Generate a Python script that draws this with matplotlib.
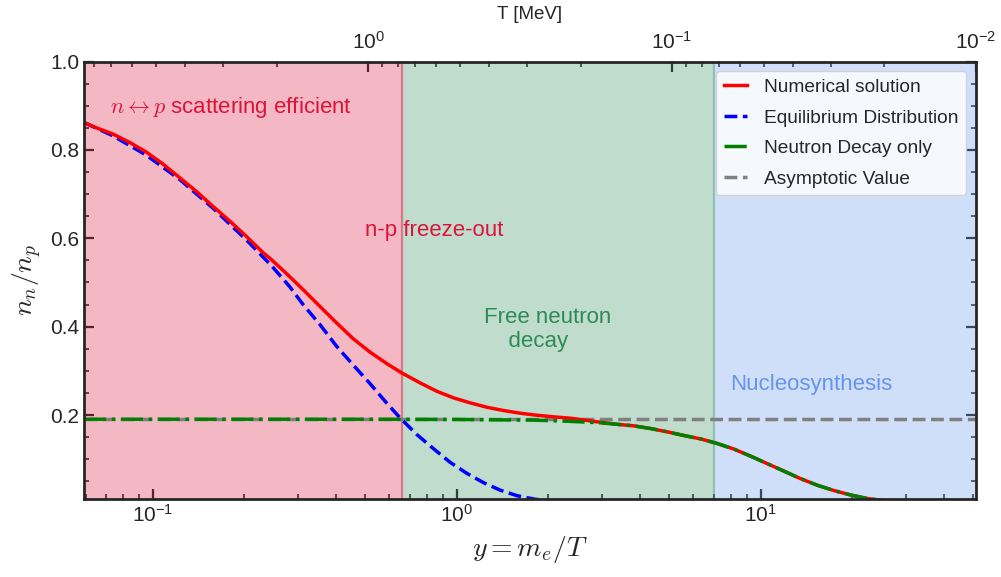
import matplotlib
matplotlib.use('Agg')
import matplotlib.pyplot as plt
from matplotlib.ticker import MultipleLocator
import numpy as np

plt.rcParams['font.family'] = ['Liberation Sans', 'DejaVu Sans']
plt.rcParams['mathtext.fontset'] = 'cm'
plt.rcParams['text.color'] = '#262626'
plt.rcParams['axes.labelcolor'] = '#262626'
plt.rcParams['xtick.color'] = '#262626'
plt.rcParams['ytick.color'] = '#262626'

# electron mass in MeV, for the T axis on top
m_e = 0.511

# values
y_num = [0.0593, 0.0651, 0.0738, 0.0838, 0.0951, 0.1079, 0.1225, 0.139, 0.1577, 0.179,
         0.2032, 0.2306, 0.2424, 0.2752, 0.3122, 0.3542, 0.4022, 0.4562, 0.5178, 0.5877,
         0.6586, 0.7568, 0.8592, 0.9745, 1.106, 1.256, 1.424, 1.617, 1.835, 2.082,
         2.363, 2.967, 3.368, 3.82, 4.336, 4.922, 5.583, 6.338, 7.19, 8.16, 9.26,
         10.51, 11.93, 13.53, 15.37, 17.43, 19.79, 22.46, 25.6, 35.0, 51.1]
nn_num = [0.862, 0.850, 0.836, 0.817, 0.795, 0.768, 0.737, 0.706, 0.672, 0.639,
          0.604, 0.567, 0.555, 0.520, 0.4836, 0.4459, 0.4084, 0.3725, 0.3425, 0.3165,
          0.2954, 0.2728, 0.2538, 0.2389, 0.2276, 0.2176, 0.2102, 0.2041, 0.1995, 0.1959,
          0.1928, 0.1837, 0.179, 0.1756, 0.1695, 0.162, 0.1537, 0.146, 0.1356, 0.123, 0.107,
          0.090, 0.073, 0.056, 0.041, 0.029, 0.019, 0.011, 0.006, 0.0015, 0.0002]

y_eq = [0.0593, 0.0738, 0.0951, 0.1225, 0.1577, 0.2032, 0.2455, 0.2822, 0.3122, 0.3542,
        0.4022, 0.4562, 0.5178, 0.5877, 0.6502, 0.738, 0.8374, 0.9504, 1.079, 1.224,
        1.389, 1.577, 1.788, 2.0]
nn_eq = [0.862, 0.832, 0.788, 0.733, 0.668, 0.596, 0.538, 0.490, 0.4497, 0.405,
         0.3555, 0.313, 0.2712, 0.227, 0.1937, 0.156, 0.124, 0.093, 0.068, 0.047,
         0.030, 0.0175, 0.010, 0.0055]

y_decay = [0.0593, 0.5, 1.0, 1.389, 1.788, 2.305, 2.967, 3.368, 3.82, 4.336, 4.922, 5.583,
           6.338, 7.19, 8.16, 9.26, 10.51, 11.93, 13.53, 15.37, 17.43, 19.79, 22.46, 25.6,
           35.0, 51.1]
nn_decay = [0.1905, 0.1905, 0.190, 0.189, 0.1885, 0.186, 0.1824, 0.179, 0.1756, 0.1695, 0.162,
            0.1537, 0.146, 0.1356, 0.123, 0.107, 0.090, 0.073, 0.056, 0.041, 0.029, 0.019,
            0.011, 0.006, 0.0015, 0.0002]

asym_value = 0.1905

region_edges = [0.0593, 0.66, 7.0, 51.1]
region_colors = ['crimson', 'seagreen', 'cornflowerblue']

fig = plt.figure(figsize=(10.01, 5.77), dpi=100)
ax = fig.add_axes([0.0839, 0.1352, 0.8911, 0.7582])

for i, c in enumerate(region_colors):
    ax.axvspan(region_edges[i], region_edges[i + 1], color=c, alpha=0.3, lw=0, zorder=2.6)
ax.axvline(region_edges[1], color='crimson', alpha=0.45, lw=1.6, zorder=2.7)
ax.axvline(region_edges[2], color='seagreen', alpha=0.35, lw=1.6, zorder=2.7)

ax.plot(y_num, nn_num, color='red', lw=2.5, label='Numerical solution', zorder=3.2)
ax.plot(y_eq, nn_eq, color='blue', lw=2.5, ls='--', label='Equilibrium Distribution', zorder=3.1)
ax.plot(y_decay, nn_decay, color='green', lw=2.5, ls='-.', label='Neutron Decay only', zorder=3.3)
ax.axhline(asym_value, color='gray', lw=2.5, ls='--', label='Asymptotic Value', zorder=3.0)

ax.set_xscale('log')
ax.set_xlim(region_edges[0], region_edges[-1])
ax.set_ylim(0.01, 1.0)
ax.yaxis.set_major_locator(MultipleLocator(0.2))
ax.yaxis.set_minor_locator(MultipleLocator(0.05))

ax.tick_params(which='both', direction='in', left=True, right=True, top=False, bottom=True,
               labelsize=15)
ax.tick_params(which='major', length=7, width=1.6)
ax.tick_params(which='minor', length=3.5, width=1.2)

for s in ax.spines.values():
    s.set_linewidth(2)
    s.set_color('#262626')
    s.set_zorder(5)

ax.set_xlabel(r'$y = m_e/T$', fontsize=20, labelpad=6)
ax.set_ylabel(r'$n_n/n_p$', fontsize=20)

secax = ax.secondary_xaxis('top', functions=(lambda v: m_e / v, lambda v: m_e / v))
secax.set_xticks([1.0, 0.1, 0.01])
secax.tick_params(which='both', direction='in', labelsize=15, pad=6)
secax.tick_params(which='major', length=7, width=1.6)
secax.tick_params(which='minor', length=3.5, width=1.2)
secax.set_xlabel('T [MeV]', fontsize=13.5, labelpad=9)

ax.text(0.072, 0.895, r'$n \leftrightarrow p$ scattering efficient', color='crimson',
        fontsize=16, va='center', ha='left', zorder=4)
ax.text(0.498, 0.617, 'n-p freeze-out', color='crimson', fontsize=16, va='center',
        ha='left', zorder=4)
ax.text(1.23, 0.393, 'Free neutron\n    decay', color='seagreen', fontsize=16, va='center',
        ha='left', zorder=4)
ax.text(7.96, 0.269, 'Nucleosynthesis', color='cornflowerblue', fontsize=16, va='center',
        ha='left', zorder=4)

leg = ax.legend(loc='upper right', fontsize=13.8, handlelength=1.2, labelspacing=0.68,
                handletextpad=0.9, frameon=True, fancybox=True, framealpha=0.8,
                edgecolor='0.8')
leg.set_zorder(6)

fig.savefig('out.png', dpi=100)
